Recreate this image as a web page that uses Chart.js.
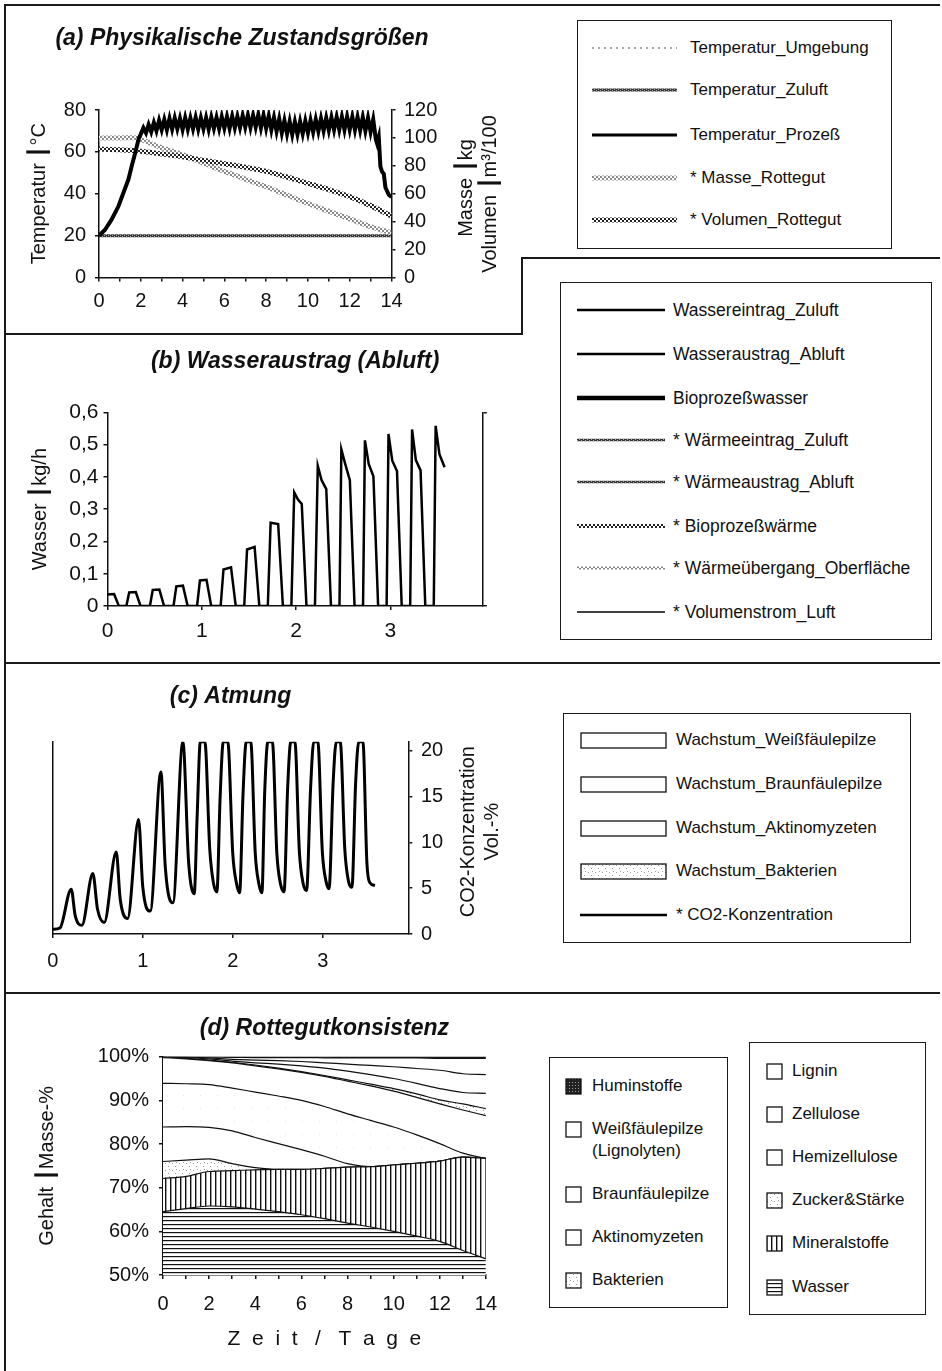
<!DOCTYPE html>
<html lang="de">
<head>
<meta charset="utf-8">
<title>Rotteverlauf</title>
<script src="https://cdn.jsdelivr.net/npm/chart.js@4.4.1/dist/chart.umd.min.js"></script>
<style>
  body { margin: 0; background: #fff; }
  #page { position: relative; width: 942px; height: 1371px; overflow: hidden;
          font-family: "Liberation Sans", Arial, Helvetica, sans-serif; color: #111; }
  .ln { position: absolute; background: #1a1a1a; }
  .plot { position: absolute; }
  .legend { position: absolute; border: 1.5px solid #1a1a1a; box-sizing: border-box; }
  .muster { position: absolute; }
  .eintrag { position: absolute; white-space: pre; line-height: 22px; }
</style>
</head>
<body>
<div id="page">
  <!-- Rahmenlinien der Abbildung -->
  <div class="ln" style="left:4px;top:4px;width:936px;height:2px"></div>
  <div class="ln" style="left:4px;top:4px;width:2px;height:1367px"></div>
  <div class="ln" style="left:522px;top:257px;width:418px;height:2px"></div>
  <div class="ln" style="left:521px;top:257px;width:2px;height:78px"></div>
  <div class="ln" style="left:4px;top:333px;width:519px;height:2px"></div>
  <div class="ln" style="left:4px;top:662px;width:936px;height:2px"></div>
  <div class="ln" style="left:4px;top:992px;width:936px;height:2px"></div>

  <canvas id="chartA" class="plot" style="left:10px;top:10px" width="500" height="320"></canvas>
  <canvas id="chartB" class="plot" style="left:10px;top:340px" width="500" height="318"></canvas>
  <canvas id="chartC" class="plot" style="left:10px;top:670px" width="500" height="318"></canvas>
  <canvas id="chartD" class="plot" style="left:10px;top:1000px" width="500" height="371"></canvas>
</div>
<script>
// ---------- (a) Physikalische Zustandsgroessen, Zeit in Tagen ----------
const namenA = ['Temperatur_Umgebung', 'Temperatur_Zuluft', 'Temperatur_Prozeß', '* Masse_Rottegut', '* Volumen_Rottegut'];
const umgebungTage = [0, 14];
const tempUmgebung = [20, 20];
const tempZuluft = [20, 20];
const prozessTage = [0, 0.28, 0.6, 0.93, 1.17, 1.41, 1.57, 1.7, 1.82, 1.9,
  2, 2.125, 2.25, 2.375, 2.5, 2.625, 2.75, 2.875,
  3, 3.125, 3.25, 3.375, 3.5, 3.625, 3.75, 3.875,
  4, 4.125, 4.25, 4.375, 4.5, 4.625, 4.75, 4.875,
  5, 5.125, 5.25, 5.375, 5.5, 5.625, 5.75, 5.875,
  6, 6.125, 6.25, 6.375, 6.5, 6.625, 6.75, 6.875,
  7, 7.125, 7.25, 7.375, 7.5, 7.625, 7.75, 7.875,
  8, 8.125, 8.25, 8.375, 8.5, 8.625, 8.75, 8.875,
  9, 9.125, 9.25, 9.375, 9.5, 9.625, 9.75, 9.875,
  10, 10.125, 10.25, 10.375, 10.5, 10.625, 10.75, 10.875,
  11, 11.125, 11.25, 11.375, 11.5, 11.625, 11.75, 11.875,
  12, 12.125, 12.25, 12.375, 12.5, 12.625, 12.75, 12.875,
  13, 13.125, 13.25, 13.31, 13.39, 13.47, 13.55, 13.63, 13.71, 13.87, 14];
const tempProzess = [20, 22.7, 27.6, 34, 40.5, 46.9, 53.4, 58.3, 63, 66.3,
  68.5, 71.5, 69, 73, 69.5, 74, 70, 75,
  70.5, 75.5, 70.5, 76, 70.8, 76.2, 71, 76,
  70.6, 76.3, 70.8, 76.2, 71, 76.5, 70.8, 76.3,
  71, 76.4, 70.7, 76.6, 71.2, 76.5, 71, 76.8,
  71.3, 76.9, 71.2, 77.1, 71.5, 77, 71.6, 77.4,
  71.8, 77.6, 71.6, 77.5, 71.9, 77.8, 71.5, 77.6,
  71.2, 77.2, 70.5, 76.5, 69.8, 75.8, 69, 75,
  68.5, 74.6, 68.2, 74.4, 68.3, 74.5, 68.6, 74.8,
  69, 75.2, 69.4, 75.6, 69.8, 76, 70.1, 76.3,
  70.3, 76.5, 70.5, 76.7, 70.6, 76.8, 70.5, 76.9,
  70.6, 76.8, 70.4, 76.7, 70.3, 76.6, 70, 76.3,
  69.5, 75.5, 66, 64, 67, 53, 50.5, 49.5, 43, 39.5, 38.5];
const rotteTage = [0, 1, 1.8, 2, 3, 4, 5, 6, 7, 8, 9, 10, 11, 12, 13, 14];
const masseRottegut = [100, 100, 100, 99, 93, 88, 82, 76, 70.5, 65, 59, 53, 47.5, 42, 36.5, 32];
const volumenRottegut = [92, 91.5, 91, 90.5, 88.5, 86.5, 84, 81.5, 79, 76, 72, 67.5, 63, 58, 51.5, 44];

// ---------- (b) Wasseraustrag (Abluft) ----------
const namenB = ['Wassereintrag_Zuluft', 'Wasseraustrag_Abluft', 'Bioprozeßwasser', '* Wärmeeintrag_Zuluft',
  '* Wärmeaustrag_Abluft', '* Bioprozeßwärme', '* Wärmeübergang_Oberfläche', '* Volumenstrom_Luft'];
const wasserTage = [0, 0.07, 0.12, 0.2, 0.23, 0.3, 0.35, 0.45, 0.48, 0.55, 0.6, 0.7, 0.73, 0.8, 0.85,
  0.95, 0.98, 1.05, 1.1, 1.2, 1.23, 1.31, 1.36, 1.45, 1.48, 1.56, 1.61, 1.7, 1.73, 1.81, 1.86,
  1.95, 1.98, 2.02, 2.06, 2.11, 2.2, 2.23, 2.27, 2.32, 2.37, 2.46, 2.48, 2.52, 2.57, 2.62,
  2.71, 2.73, 2.77, 2.82, 2.87, 2.96, 2.98, 3.02, 3.07, 3.12, 3.21, 3.23, 3.27, 3.32, 3.37,
  3.46, 3.48, 3.52, 3.575];
const wasserAbluft = [0.036, 0.037, 0, 0, 0.042, 0.043, 0, 0, 0.05, 0.051, 0, 0, 0.061, 0.063, 0,
  0, 0.079, 0.081, 0, 0, 0.113, 0.12, 0, 0, 0.175, 0.183, 0, 0, 0.258, 0.254, 0,
  0, 0.352, 0.33, 0.316, 0, 0, 0.434, 0.39, 0.362, 0, 0, 0.485, 0.441, 0.39, 0,
  0, 0.513, 0.44, 0.402, 0, 0, 0.533, 0.45, 0.418, 0, 0, 0.547, 0.452, 0.42, 0,
  0, 0.558, 0.47, 0.43];

// ---------- (c) Atmung ----------
const namenC = ['Wachstum_Weißfäulepilze', 'Wachstum_Braunfäulepilze', 'Wachstum_Aktinomyzeten', 'Wachstum_Bakterien', '* CO2-Konzentration'];
const co2Tage = [0, 0.08, 0.206, 0.25, 0.324, 0.446, 0.498, 0.572, 0.706, 0.75, 0.832, 0.954, 1.0, 1.083,
  1.202, 1.25, 1.335, 1.446, 1.51, 1.572,
  1.605, 1.64, 1.69, 1.745, 1.785, 1.824,
  1.86, 1.895, 1.945, 2.0, 2.04, 2.076,
  2.115, 2.15, 2.2, 2.25, 2.29, 2.324,
  2.355, 2.39, 2.44, 2.49, 2.53, 2.57,
  2.61, 2.645, 2.69, 2.74, 2.78, 2.82,
  2.865, 2.9, 2.945, 2.995, 3.035, 3.07,
  3.115, 3.15, 3.194, 3.245, 3.285, 3.324,
  3.365, 3.4, 3.446, 3.49, 3.524, 3.58];
const co2Konz = [0.5, 0.65, 4.9, 2.0, 0.95, 6.6, 2.7, 1.25, 8.95, 3.8, 1.7, 12.5, 5.2, 2.5,
  17.7, 7.4, 3.4, 21, 7.8, 4.4,
  13, 21, 21, 9.2, 5.6, 4.6,
  15, 21, 21, 8.8, 5.6, 4.5,
  15.5, 21, 21, 8.8, 5.5, 4.5,
  15.5, 21, 21, 8.8, 5.5, 4.6,
  16, 21, 21, 9, 5.6, 4.75,
  16, 21, 21, 9, 5.8, 4.95,
  16.5, 21, 21, 9.2, 5.8, 5.1,
  16.5, 21, 21, 7.8, 5.6, 5.3];

// ---------- (d) Rottegutkonsistenz, Masse-% ----------
const namenD1 = ['Huminstoffe', 'Weißfäulepilze\n(Lignolyten)', 'Braunfäulepilze', 'Aktinomyzeten', 'Bakterien'];
const namenD2 = ['Lignin', 'Zellulose', 'Hemizellulose', 'Zucker&Stärke', 'Mineralstoffe', 'Wasser'];
const tageD = [0, 1, 2, 3, 4, 5, 6, 7, 8, 9, 10, 11, 12, 13, 14];
const wasser = [64.5, 65.2, 65.8, 65.6, 65.1, 64.5, 63.8, 62.9, 61.9, 61.0, 60.0, 58.9, 57.7, 55.6, 53.7];
const mineralstoffe = [7.6, 7.4, 7.9, 8.3, 9.0, 9.7, 10.4, 11.5, 12.8, 13.8, 15.2, 16.7, 18.4, 21.4, 23.0];
const zuckerStaerke = [3.9, 3.7, 2.9, 1.6, 0.5, 0, 0, 0, 0, 0, 0, 0, 0, 0, 0];
const hemizellulose = [7.9, 7.7, 7.2, 7.5, 6.9, 5.9, 4.5, 2.8, 0.8, 0, 0, 0, 0, 0, 0];
const zellulose = [10.0, 9.8, 9.8, 9.8, 10.4, 10.9, 11.3, 11.4, 11.4, 10.6, 8.7, 6.5, 4.0, 0.9, 0];
const lignin = [5.9, 5.7, 5.5, 5.8, 6.0, 6.2, 6.4, 6.9, 7.5, 7.9, 8.2, 8.6, 9.1, 9.9, 9.8];
const bakterien = [0.05, 0.1, 0.1, 0.1, 0.2, 0.2, 0.2, 0.2, 0.3, 0.4, 0.6, 0.8, 0.9, 1.4, 1.6];
const aktinomyzeten = [0.05, 0.2, 0.3, 0.3, 0.5, 0.9, 1.3, 1.7, 2.0, 2.2, 2.3, 2.4, 2.6, 2.6, 3.5];
const braunfaeule = [0.05, 0.1, 0.2, 0.4, 0.6, 0.8, 1.0, 1.2, 1.6, 2.1, 2.7, 3.4, 4.2, 4.3, 4.3];
const weissfaeule = [0.05, 0.05, 0.2, 0.45, 0.6, 0.7, 0.9, 1.15, 1.4, 1.7, 2.0, 2.4, 2.7, 3.5, 3.7];
const huminstoffe = [0, 0.05, 0.1, 0.15, 0.2, 0.2, 0.2, 0.25, 0.3, 0.3, 0.3, 0.3, 0.4, 0.4, 0.4];

// ---------- Hilfen ----------
const SCHRIFT = "'Liberation Sans', Arial, Helvetica, sans-serif";
Chart.defaults.font.family = SCHRIFT;
Chart.defaults.font.size = 20;
Chart.defaults.color = '#111';

const punkte = (xs, ys) => xs.map((x, i) => ({ x: x, y: ys[i] }));

// kleine Raster fuer Linien und Flaechen
function textur(ctx, art) {
  const c = document.createElement('canvas');
  const g = c.getContext('2d');
  const feld = (w, h, grund) => { c.width = w; c.height = h; g.fillStyle = grund; g.fillRect(0, 0, w, h); };
  if (art === 'waagerecht') { feld(6, 4, '#fff'); g.fillStyle = '#111'; g.fillRect(0, 0, 6, 1.2); }
  else if (art === 'senkrecht') { feld(5, 6, '#fff'); g.fillStyle = '#111'; g.fillRect(0, 0, 1.4, 6); }
  else if (art === 'punkte') { feld(7, 7, '#fff'); g.fillStyle = '#999'; g.fillRect(1, 2, 1, 1); g.fillRect(4, 5, 1, 1); g.fillRect(5, 1, 1, 1); }
  else if (art === 'fein') { feld(17, 13, '#fff'); g.fillStyle = '#e2e2e2'; g.fillRect(3, 4, 1, 1); }
  else if (art === 'dunkel') { feld(3, 3, '#222'); g.fillStyle = '#999'; g.fillRect(1, 1, 1, 1); }
  else if (art === 'hell') { feld(4, 4, '#fff'); g.fillStyle = '#8a8a8a'; g.fillRect(0, 0, 2, 2); g.fillRect(2, 2, 2, 2); }
  else if (art === 'dunkelkaro') { feld(4, 4, '#fff'); g.fillStyle = '#222'; g.fillRect(0, 0, 2, 2); g.fillRect(2, 2, 2, 2); }
  else if (art === 'zuluft') { feld(4, 2, '#333'); g.fillStyle = '#aaa'; g.fillRect(0, 0, 1, 1); g.fillRect(2, 1, 1, 1); }
  else { feld(2, 2, '#fff'); }
  return ctx.createPattern(c, 'repeat');
}

// gedrehte Achsentitel rechts (von unten nach oben gelesen)
const seitenTitel = {
  id: 'seitenTitel',
  afterDraw(chart, args, opts) {
    const ctx = chart.ctx;
    ctx.save();
    ctx.fillStyle = '#111';
    ctx.textAlign = 'center';
    ctx.textBaseline = 'middle';
    ctx.font = opts.font;
    (opts.items || []).forEach(it => {
      ctx.save();
      ctx.translate(it.x, it.y);
      ctx.rotate(-Math.PI / 2);
      ctx.fillText(it.text, 0, 0);
      ctx.restore();
    });
    ctx.restore();
  }
};

const rahmen = {
  border: { display: true, color: '#111', width: 1.5 },
  grid: { drawOnChartArea: false, drawTicks: true, tickLength: 4, color: '#111', lineWidth: 1.5 }
};
const titelSchrift = { size: 23, weight: 'bold', style: 'italic', family: SCHRIFT };
const basis = {
  responsive: false,
  animation: false,
  events: [],
  elements: { point: { radius: 0 }, line: { tension: 0 } }
};
const komma = v => (v === 0 ? '0' : v.toFixed(1).replace('.', ','));
const gerade = v => (v % 2 === 0 ? String(v) : '');

// Linien- und Flaechenstile (Diagramm und Legende)
const stilA = [
  { color: '#888', width: 1.5, dash: [2, 4] },
  { tex: 'zuluft', width: 3 },
  { color: '#000', width: 3 },
  { tex: 'hell', width: 5 },
  { tex: 'dunkelkaro', width: 5 }
];
const stilB = [
  { color: '#000', width: 2.5 }, { color: '#000', width: 2.5 }, { color: '#000', width: 4.5 },
  { tex: 'zuluft', width: 2.5 }, { tex: 'zuluft', width: 2.5 }, { tex: 'dunkelkaro', width: 4 },
  { tex: 'hell', width: 3 }, { color: '#000', width: 1.3 }
];
const stilC = [{ box: 'weiss' }, { box: 'weiss' }, { box: 'weiss' }, { box: 'punkte' }, { color: '#000', width: 2.5 }];
const stilD1 = [{ box: 'dunkel' }, { box: 'weiss' }, { box: 'weiss' }, { box: 'weiss' }, { box: 'punkte' }];
const stilD2 = [{ box: 'fein' }, { box: 'fein' }, { box: 'weiss' }, { box: 'punkte' }, { box: 'senkrecht' }, { box: 'waagerecht' }];

// ---------- (a) ----------
const ctxA = document.getElementById('chartA').getContext('2d');
new Chart(ctxA, {
  type: 'line',
  data: {
    datasets: [
      { label: namenA[0], data: punkte(umgebungTage, tempUmgebung), borderColor: stilA[0].color, borderWidth: 1.5, borderDash: stilA[0].dash, order: 5 },
      { label: namenA[1], data: punkte(umgebungTage, tempZuluft), borderColor: textur(ctxA, 'zuluft'), borderWidth: 3, order: 4 },
      { label: namenA[2], data: punkte(prozessTage, tempProzess), borderColor: '#000', borderWidth: 4, order: 0 },
      { label: namenA[3], data: punkte(rotteTage, masseRottegut), yAxisID: 'y2', borderColor: textur(ctxA, 'hell'), borderWidth: 5, tension: 0.3, order: 3 },
      { label: namenA[4], data: punkte(rotteTage, volumenRottegut), yAxisID: 'y2', borderColor: textur(ctxA, 'dunkelkaro'), borderWidth: 5, tension: 0.3, order: 2 }
    ]
  },
  options: Object.assign({}, basis, {
    layout: { padding: { right: 36 } },
    plugins: {
      legend: { display: false }, tooltip: { enabled: false },
      title: { display: true, text: '(a) Physikalische Zustandsgrößen', font: titelSchrift, color: '#111', padding: { top: 14.5, bottom: 57.9 } },
      seitenTitel: { font: '20px ' + SCHRIFT, items: [
        { text: 'Masse ┃kg', x: 456.5, y: 178 },
        { text: 'Volumen ┃m³/100', x: 480, y: 184 }
      ] }
    },
    scales: {
      x: Object.assign({}, rahmen, { type: 'linear', min: 0, max: 14, afterFit: s => { s.height = 52.5; },
        ticks: { stepSize: 1, autoSkip: false, maxRotation: 0, padding: 8, callback: gerade } }),
      y: Object.assign({}, rahmen, { min: 0, max: 80, afterFit: s => { s.width = 89; },
        ticks: { stepSize: 20, padding: 9 },
        title: { display: true, text: 'Temperatur ┃°C', font: { size: 20 }, padding: { top: 17, bottom: 0 } } }),
      y2: Object.assign({}, rahmen, { position: 'right', min: 0, max: 120, afterFit: s => { s.width = 82.5; },
        ticks: { stepSize: 20, padding: 8.5 } })
    }
  }),
  plugins: [seitenTitel]
});

// ---------- (b) ----------
const ctxB = document.getElementById('chartB').getContext('2d');
new Chart(ctxB, {
  type: 'line',
  data: {
    datasets: [
      { label: namenB[1], data: punkte(wasserTage, wasserAbluft), borderColor: '#000', borderWidth: 2.5 }
    ]
  },
  options: Object.assign({}, basis, {
    plugins: {
      legend: { display: false }, tooltip: { enabled: false },
      title: { display: true, text: '(b) Wasseraustrag (Abluft)', fullSize: false, font: titelSchrift, color: '#111', padding: { top: 7.9, bottom: 36.8 } }
    },
    scales: {
      x: Object.assign({}, rahmen, { type: 'linear', min: 0, max: 3.98, afterFit: s => { s.height = 52; },
        ticks: { stepSize: 1, includeBounds: false, maxRotation: 0, padding: 9, font: { size: 21 } } }),
      y: Object.assign({}, rahmen, { min: 0, max: 0.6, afterFit: s => { s.width = 97.5; },
        ticks: { stepSize: 0.1, padding: 5, font: { size: 21 }, callback: komma },
        title: { display: true, text: 'Wasser ┃kg/h', font: { size: 20 }, padding: { top: 18.6, bottom: 0 } } }),
      y2: Object.assign({}, rahmen, { position: 'right', min: 0, max: 0.6, afterFit: s => { s.width = 27.2; },
        ticks: { stepSize: 0.6, callback: () => '' } })
    }
  })
});

// ---------- (c) ----------
const ctxC = document.getElementById('chartC').getContext('2d');
new Chart(ctxC, {
  type: 'line',
  data: {
    datasets: [
      { label: namenC[4], data: punkte(co2Tage, co2Konz), yAxisID: 'y2', borderColor: '#000', borderWidth: 3, cubicInterpolationMode: 'monotone' }
    ]
  },
  options: Object.assign({}, basis, {
    plugins: {
      legend: { display: false }, tooltip: { enabled: false },
      title: { display: true, text: '(c) Atmung', fullSize: false, font: titelSchrift, color: '#111', padding: { top: 12.9, bottom: 31.2 } },
      seitenTitel: { font: '20px ' + SCHRIFT, items: [
        { text: 'CO2-Konzentration', x: 458.4, y: 161.7 },
        { text: 'Vol.-%', x: 482, y: 161.7 }
      ] }
    },
    scales: {
      x: Object.assign({}, rahmen, { type: 'linear', min: 0, max: 3.95, afterFit: s => { s.height = 54; },
        ticks: { stepSize: 1, includeBounds: false, maxRotation: 0, padding: 11.7 } }),
      y: { min: 0, max: 21, afterFit: s => { s.width = 42.7; }, ticks: { display: false },
        grid: { display: false }, border: { display: true, color: '#111', width: 1.5 } },
      y2: Object.assign({}, rahmen, { position: 'right', min: 0, max: 21, afterFit: s => { s.width = 101.7; },
        ticks: { stepSize: 5, includeBounds: false, padding: 8.7 } })
    }
  }),
  plugins: [seitenTitel]
});

// ---------- (d) ----------
const ctxD = document.getElementById('chartD').getContext('2d');
const schichten = [
  [namenD2[5], wasser, 'waagerecht'],
  [namenD2[4], mineralstoffe, 'senkrecht'],
  [namenD2[3], zuckerStaerke, 'punkte'],
  [namenD2[2], hemizellulose, 'weiss'],
  [namenD2[1], zellulose, 'fein'],
  [namenD2[0], lignin, 'weiss'],
  [namenD1[4], bakterien, 'punkte'],
  [namenD1[3], aktinomyzeten, 'weiss'],
  [namenD1[2], braunfaeule, 'weiss'],
  [namenD1[1].replace('\n', ' '), weissfaeule, 'weiss'],
  [namenD1[0], huminstoffe, 'dunkel']
];
new Chart(ctxD, {
  type: 'line',
  data: {
    labels: tageD,
    datasets: schichten.map((s, i) => ({
      label: s[0], data: s[1],
      backgroundColor: s[2] === 'weiss' ? '#fff' : textur(ctxD, s[2]),
      fill: i === 0 ? 'start' : '-1',
      borderColor: '#111', borderWidth: 1.2,
      cubicInterpolationMode: 'monotone'
    }))
  },
  options: Object.assign({}, basis, {
    layout: { padding: { right: 22.5 } },
    plugins: {
      legend: { display: false }, tooltip: { enabled: false },
      title: { display: true, text: '(d) Rottegutkonsistenz', fullSize: false, font: titelSchrift, color: '#111', padding: { top: 14.5, bottom: 14.6 } }
    },
    scales: {
      x: Object.assign({}, rahmen, { type: 'linear', min: 0, max: 14, afterFit: s => { s.height = 96; },
        ticks: { stepSize: 1, autoSkip: false, maxRotation: 0, padding: 13, callback: gerade },
        title: { display: true, text: 'Z  e  i  t   /   T  a  g  e', font: { size: 21 }, padding: { top: 0, bottom: 19 } } }),
      y: Object.assign({}, rahmen, { stacked: true, min: 50, max: 100, afterFit: s => { s.width = 153; },
        ticks: { stepSize: 10, padding: 10, callback: v => v + '%' },
        title: { display: true, text: 'Gehalt ┃Masse-%', font: { size: 20 }, padding: { top: 25.3, bottom: 0 } } })
    }
  })
});

// ---------- Legenden ----------
function zeichneMuster(cv, st) {
  const g = cv.getContext('2d');
  const w = cv.width, h = cv.height;
  if (st.box) {
    g.fillStyle = st.box === 'weiss' ? '#fff' : textur(g, st.box);
    g.fillRect(1, 1, w - 2, h - 2);
    g.strokeStyle = '#111';
    g.lineWidth = 1.3;
    g.strokeRect(1, 1, w - 2, h - 2);
  } else {
    g.strokeStyle = st.tex ? textur(g, st.tex) : st.color;
    g.lineWidth = st.width;
    g.setLineDash(st.dash || []);
    g.beginPath();
    g.moveTo(0, h / 2);
    g.lineTo(w, h / 2);
    g.stroke();
  }
}

function legende(sp) {
  const page = document.getElementById('page');
  const box = document.createElement('div');
  box.className = 'legend';
  box.style.cssText = `left:${sp.box[0]}px;top:${sp.box[1]}px;width:${sp.box[2]}px;height:${sp.box[3]}px`;
  page.appendChild(box);
  sp.namen.forEach((name, i) => {
    const y = sp.zeilen[i];
    const st = sp.stile[i];
    const h = st.box ? sp.mh : 12;
    const cv = document.createElement('canvas');
    cv.width = sp.mw;
    cv.height = h;
    cv.className = 'muster';
    cv.style.cssText = `left:${sp.mx}px;top:${y - h / 2}px`;
    page.appendChild(cv);
    zeichneMuster(cv, st);
    const t = document.createElement('div');
    t.className = 'eintrag';
    t.style.cssText = `left:${sp.tx}px;top:${y - 11}px;font-size:${sp.fs}px;line-height:${sp.lh || 22}px`;
    t.textContent = name;
    page.appendChild(t);
  });
}

legende({ namen: namenA, stile: stilA, box: [577, 20, 315, 229], zeilen: [48, 90, 135, 178, 220],
  mx: 592, mw: 85, mh: 12, tx: 690, fs: 17 });
legende({ namen: namenB, stile: stilB, box: [560, 282, 372, 358], zeilen: [310, 354, 398, 440, 482, 526, 568, 612],
  mx: 577, mw: 88, mh: 12, tx: 673, fs: 17.5 });
legende({ namen: namenC, stile: stilC, box: [563, 713, 348, 230], zeilen: [740, 784, 828, 871, 915],
  mx: 580, mw: 87, mh: 17, tx: 676, fs: 17 });
legende({ namen: namenD1, stile: stilD1, box: [549, 1057, 179, 251], zeilen: [1086, 1129, 1194, 1237, 1280],
  mx: 565, mw: 17, mh: 17, tx: 592, fs: 17, lh: 21.5 });
legende({ namen: namenD2, stile: stilD2, box: [749, 1042, 177, 273], zeilen: [1071, 1114, 1157, 1200, 1243, 1287],
  mx: 766, mw: 17, mh: 17, tx: 792, fs: 17 });
</script>
</body>
</html>
